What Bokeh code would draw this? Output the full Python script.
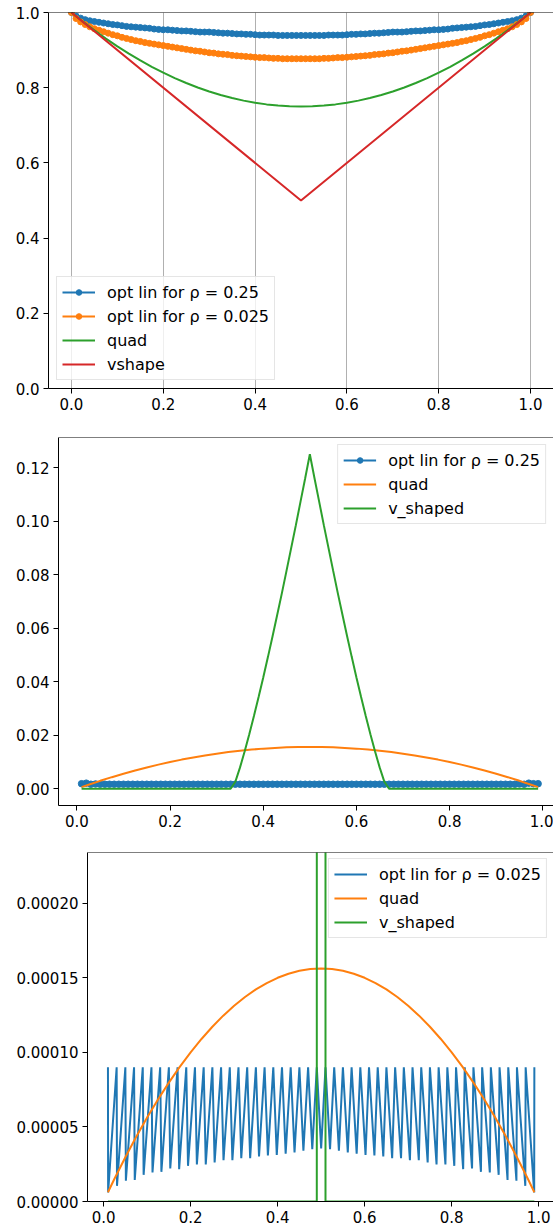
from bokeh.plotting import figure
from bokeh.layouts import column
from bokeh.models import FixedTicker, PrintfTickFormatter, Range1d, Span
from bokeh.embed import file_html
from bokeh.resources import INLINE

FONT = "DejaVu Sans"
FS = "15px"
LFS = "16px"
BLUE, ORANGE, GREEN, RED = "#1f77b4", "#ff7f0e", "#2ca02c", "#d62728"

# ---------------- data ----------------
x_ticks = [0.0, 0.2, 0.4, 0.6, 0.8, 1.0]

# sampling grid 0.00 .. 1.00 (step 0.01)
x_fine = [round(i * 0.01, 2) for i in range(101)]

# panel 1 : efficiency curves
opt_lin_rho_0_25 = [
    1.000, 0.991, 0.985, 0.981, 0.978, 0.976, 0.974, 0.972, 0.970, 0.968,
    0.967, 0.965, 0.963, 0.962, 0.961, 0.960, 0.959, 0.958, 0.956, 0.955,
    0.954, 0.954, 0.953, 0.952, 0.951, 0.951, 0.950, 0.949, 0.948, 0.948,
    0.948, 0.947, 0.946, 0.945, 0.945, 0.944, 0.943, 0.943, 0.942, 0.942,
    0.941, 0.940, 0.940, 0.940, 0.940, 0.939, 0.939, 0.939, 0.939, 0.939,
    0.939,
    0.939, 0.939, 0.939, 0.939, 0.939, 0.940, 0.940, 0.940, 0.940, 0.941,
    0.942, 0.942, 0.943, 0.943, 0.944, 0.945, 0.945, 0.946, 0.947, 0.948,
    0.948, 0.948, 0.949, 0.950, 0.951, 0.951, 0.952, 0.953, 0.954, 0.954,
    0.955, 0.956, 0.958, 0.959, 0.960, 0.961, 0.962, 0.963, 0.965, 0.967,
    0.968, 0.970, 0.972, 0.974, 0.976, 0.978, 0.981, 0.985, 0.991, 1.000,
]
opt_lin_rho_0_025 = [
    1.000, 0.984, 0.975, 0.968, 0.962, 0.957, 0.953, 0.949, 0.945, 0.941,
    0.938, 0.934, 0.931, 0.928, 0.925, 0.923, 0.920, 0.918, 0.916, 0.914,
    0.912, 0.910, 0.908, 0.906, 0.904, 0.902, 0.900, 0.898, 0.897, 0.895,
    0.893, 0.892, 0.890, 0.889, 0.888, 0.886, 0.885, 0.884, 0.883, 0.882,
    0.881, 0.880, 0.880, 0.879, 0.878, 0.878, 0.877, 0.877, 0.877, 0.877,
    0.877,
    0.877, 0.877, 0.877, 0.877, 0.878, 0.878, 0.879, 0.880, 0.880, 0.881,
    0.882, 0.883, 0.884, 0.885, 0.886, 0.888, 0.889, 0.890, 0.892, 0.893,
    0.895, 0.897, 0.898, 0.900, 0.902, 0.904, 0.906, 0.908, 0.910, 0.912,
    0.914, 0.916, 0.918, 0.920, 0.923, 0.925, 0.928, 0.931, 0.934, 0.938,
    0.941, 0.945, 0.949, 0.953, 0.957, 0.962, 0.968, 0.975, 0.984, 1.000,
]
x_quad1 = [0.0, 0.025, 0.05, 0.075, 0.1, 0.125, 0.15, 0.175, 0.2, 0.225, 0.25,
           0.275, 0.3, 0.325, 0.35, 0.375, 0.4, 0.425, 0.45, 0.475, 0.5,
           0.525, 0.55, 0.575, 0.6, 0.625, 0.65, 0.675, 0.7, 0.725, 0.75,
           0.775, 0.8, 0.825, 0.85, 0.875, 0.9, 0.925, 0.95, 0.975, 1.0]
quad1 = [1.0, 0.975625, 0.9525, 0.930625, 0.91, 0.890625, 0.8725, 0.855625,
         0.84, 0.825625, 0.8125, 0.800625, 0.79, 0.780625, 0.7725, 0.765625,
         0.76, 0.755625, 0.7525, 0.750625, 0.75,
         0.750625, 0.7525, 0.755625, 0.76, 0.765625, 0.7725, 0.780625, 0.79,
         0.800625, 0.8125, 0.825625, 0.84, 0.855625, 0.8725, 0.890625, 0.91,
         0.930625, 0.9525, 0.975625, 1.0]
x_vshape1 = [0.0, 0.5, 1.0]
vshape1 = [1.0, 0.5, 1.0]

# panel 2
x_mid = x_fine[1:100]   # 0.01 .. 0.99
opt_lin2 = [
    0.0019, 0.0021, 0.0017, 0.0018, 0.0017, 0.0017, 0.0017, 0.0017, 0.0017, 0.0017,
    0.0017, 0.0017, 0.0017, 0.0017, 0.0017, 0.0017, 0.0017, 0.0017, 0.0017, 0.0017,
    0.0017, 0.0017, 0.0017, 0.0017, 0.0017, 0.0017, 0.0017, 0.0017, 0.0017, 0.0017,
    0.0017, 0.0017, 0.0017, 0.0017, 0.0017, 0.0017, 0.0017, 0.0017, 0.0017, 0.0017,
    0.0017, 0.0017, 0.0017, 0.0017, 0.0017, 0.0017, 0.0017, 0.0017, 0.0017, 0.0017,
    0.0017, 0.0017, 0.0017, 0.0017, 0.0017, 0.0017, 0.0017, 0.0017, 0.0017, 0.0017,
    0.0017, 0.0017, 0.0017, 0.0017, 0.0017, 0.0017, 0.0017, 0.0017, 0.0017, 0.0017,
    0.0017, 0.0017, 0.0017, 0.0017, 0.0017, 0.0017, 0.0017, 0.0017, 0.0017, 0.0017,
    0.0017, 0.0017, 0.0017, 0.0017, 0.0017, 0.0017, 0.0017, 0.0017, 0.0017, 0.0017,
    0.0017, 0.0017, 0.0017, 0.0017, 0.0018, 0.0017, 0.0021, 0.0019, 0.0019,
]
x_quad = [0.01, 0.025, 0.05, 0.075, 0.1, 0.125, 0.15, 0.175, 0.2, 0.225, 0.25,
          0.275, 0.3, 0.325, 0.35, 0.375, 0.4, 0.425, 0.45, 0.475, 0.5,
          0.525, 0.55, 0.575, 0.6, 0.625, 0.65, 0.675, 0.7, 0.725, 0.75,
          0.775, 0.8, 0.825, 0.85, 0.875, 0.9, 0.925, 0.95, 0.975, 0.99]
quad2 = [0.000619, 0.001523, 0.002969, 0.004336, 0.005625, 0.006836, 0.007969,
         0.009023, 0.010000, 0.010898, 0.011719, 0.012461, 0.013125, 0.013711,
         0.014219, 0.014648, 0.015000, 0.015273, 0.015469, 0.015586, 0.015625,
         0.015586, 0.015469, 0.015273, 0.015000, 0.014648, 0.014219, 0.013711,
         0.013125, 0.012461, 0.011719, 0.010898, 0.010000, 0.009023, 0.007969,
         0.006836, 0.005625, 0.004336, 0.002969, 0.001523, 0.000619]
x_vshaped2 = [0.01, 0.33, 0.34, 0.35, 0.36, 0.37, 0.38, 0.39, 0.40, 0.41, 0.42,
              0.43, 0.44, 0.45, 0.46, 0.47, 0.48, 0.49, 0.50, 0.51, 0.52, 0.53,
              0.54, 0.55, 0.56, 0.57, 0.58, 0.59, 0.60, 0.61, 0.62, 0.63, 0.64,
              0.65, 0.66, 0.67, 0.99]
vshaped2 = [0.0, 0.0, 0.0026, 0.0079, 0.0139, 0.0204, 0.0272, 0.0343, 0.0416,
            0.0492, 0.0570, 0.0650, 0.0731, 0.0815, 0.0900, 0.0985, 0.1073,
            0.1160, 0.1250, 0.1160, 0.1073, 0.0985, 0.0900, 0.0815, 0.0731,
            0.0650, 0.0570, 0.0492, 0.0416, 0.0343, 0.0272, 0.0204, 0.0139,
            0.0079, 0.0026, 0.0, 0.0]

# panel 3
peak_x = [round(0.01 + 0.02 * k, 2) for k in range(50)]   # 0.01, 0.03, ..., 0.99
peak_value = 0.00009
trough_x = [0.0104, 0.0308, 0.0512, 0.0716, 0.0920, 0.1124, 0.1328, 0.1532,
            0.1736, 0.1940, 0.2144, 0.2348, 0.2552, 0.2756, 0.2960, 0.3164,
            0.3368, 0.3572, 0.3776, 0.3980, 0.4184, 0.4388, 0.4592, 0.4796,
            0.5000, 0.5204, 0.5408, 0.5612, 0.5816, 0.6020, 0.6224, 0.6428,
            0.6632, 0.6836, 0.7040, 0.7244, 0.7448, 0.7652, 0.7856, 0.8060,
            0.8264, 0.8468, 0.8672, 0.8876, 0.9080, 0.9284, 0.9488, 0.9692,
            0.9896]
trough_y = [6.0e-6, 10.5e-6, 13.9e-6, 14.5e-6, 17.9e-6, 19.5e-6, 19.9e-6, 22.1e-6,
            21.7e-6, 23.9e-6, 24.8e-6, 24.8e-6, 26.2e-6, 27.7e-6, 27.7e-6, 29.1e-6,
            29.1e-6, 30.2e-6, 30.8e-6, 31.2e-6, 32.0e-6, 32.9e-6, 34.0e-6, 35.1e-6,
            35.6e-6,
            35.1e-6, 34.0e-6, 32.9e-6, 32.0e-6, 31.2e-6, 30.8e-6, 30.2e-6, 29.1e-6,
            29.1e-6, 27.7e-6, 27.7e-6, 26.2e-6, 24.8e-6, 24.8e-6, 23.9e-6, 21.7e-6,
            22.1e-6, 19.9e-6, 19.5e-6, 17.9e-6, 14.5e-6, 13.9e-6, 10.5e-6, 6.0e-6]
quad3 = [0.00000619, 0.00001523, 0.00002969, 0.00004336, 0.00005625, 0.00006836,
         0.00007969, 0.00009023, 0.00010000, 0.00010898, 0.00011719, 0.00012461,
         0.00013125, 0.00013711, 0.00014219, 0.00014648, 0.00015000, 0.00015273,
         0.00015469, 0.00015586, 0.00015625,
         0.00015586, 0.00015469, 0.00015273, 0.00015000, 0.00014648, 0.00014219,
         0.00013711, 0.00013125, 0.00012461, 0.00011719, 0.00010898, 0.00010000,
         0.00009023, 0.00007969, 0.00006836, 0.00005625, 0.00004336, 0.00002969,
         0.00001523, 0.00000619]
x_vshaped3 = [0.01, 0.49, 0.50, 0.51, 0.99]
vshaped3 = [0.0, 0.0, 0.125, 0.0, 0.0]

saw_x, saw_y = [], []
for k in range(len(trough_x)):
    saw_x += [peak_x[k], trough_x[k]]
    saw_y += [peak_value, trough_y[k]]
saw_x.append(peak_x[-1])
saw_y.append(peak_value)


# ---------------- helpers ----------------
def make_fig(height, left, top, bottom, xr, yr):
    p = figure(width=553, height=height, x_range=Range1d(*xr), y_range=Range1d(*yr),
               output_backend="svg", toolbar_location=None,
               min_border_left=left, min_border_right=0,
               min_border_top=top, min_border_bottom=bottom)
    try:
        p.frame_align = False
    except Exception:
        pass
    p.background_fill_color = "white"
    p.border_fill_color = "white"
    p.outline_line_color = None
    return p


def style(p, yticks, yfmt, xgrid=False, right_spine=False):
    p.xaxis.ticker = FixedTicker(ticks=x_ticks)
    p.xaxis.formatter = PrintfTickFormatter(format="%.1f")
    p.yaxis.ticker = FixedTicker(ticks=yticks)
    p.yaxis.formatter = PrintfTickFormatter(format=yfmt)
    for ax in list(p.xaxis) + list(p.yaxis):
        ax.major_label_text_font = FONT
        ax.major_label_text_font_size = FS
        ax.major_label_text_color = "black"
        ax.major_tick_in = 0
        ax.major_tick_out = 5
        ax.major_tick_line_color = "black"
        ax.minor_tick_line_color = None
        ax.axis_line_color = "black"
        ax.axis_line_width = 1
        ax.major_label_standoff = 4
    p.add_layout(Span(location=p.y_range.end, dimension="width",
                      line_color="black", line_width=1))
    if right_spine:
        p.add_layout(Span(location=p.x_range.end, dimension="height",
                          line_color="black", line_width=1))
    p.xgrid.grid_line_color = "#b0b0b0" if xgrid else None
    p.xgrid.grid_line_width = 1
    p.ygrid.grid_line_color = None


def style_legend(p, loc, margin):
    lg = p.legend[0]
    lg.location = loc
    lg.margin = margin
    lg.padding = 5
    lg.spacing = 4
    lg.glyph_width = 33
    lg.glyph_height = 14
    lg.label_height = 20
    lg.label_standoff = 12
    lg.label_text_font = FONT
    lg.label_text_font_size = LFS
    lg.label_text_color = "black"
    lg.border_line_color = "#cccccc"
    lg.border_line_width = 1
    lg.background_fill_alpha = 0.8


# ---------------- panel 1 ----------------
p1 = make_fig(423, 48, 12, 35, (-0.05, 1.05), (0.0, 1.0))
style(p1, [0.0, 0.2, 0.4, 0.6, 0.8, 1.0], "%.1f", xgrid=True, right_spine=True)
l1 = "opt lin for ρ = 0.25"
l2 = "opt lin for ρ = 0.025"
p1.line(x_fine, opt_lin_rho_0_25, color=BLUE, line_width=2, legend_label=l1)
p1.scatter(x_fine, opt_lin_rho_0_25, color=BLUE, size=6, legend_label=l1)
p1.line(x_fine, opt_lin_rho_0_025, color=ORANGE, line_width=2, legend_label=l2)
p1.scatter(x_fine, opt_lin_rho_0_025, color=ORANGE, size=6, legend_label=l2)
p1.line(x_quad1, quad1, color=GREEN, line_width=2, legend_label="quad")
p1.line(x_vshape1, vshape1, color=RED, line_width=2, legend_label="vshape")
style_legend(p1, "bottom_left", 8)

# ---------------- panel 2 ----------------
p2 = make_fig(415, 58, 14, 33, (-0.0395, 1.023), (-0.00625, 0.13125))
style(p2, [0.0, 0.02, 0.04, 0.06, 0.08, 0.10, 0.12], "%.2f")
p2.line(x_mid, opt_lin2, color=BLUE, line_width=2, legend_label=l1)
p2.scatter(x_mid, opt_lin2, color=BLUE, size=6.5, legend_label=l1)
p2.line(x_quad, quad2, color=ORANGE, line_width=2, legend_label="quad")
p2.line(x_vshaped2, vshaped2, color=GREEN, line_width=2, legend_label="v_shaped")
style_legend(p2, "top_right", 7)

# ---------------- panel 3 ----------------
p3 = make_fig(388, 87, 14, 25, (-0.037, 1.034), (0.0, 0.000234))
style(p3, [0.0, 0.00005, 0.0001, 0.00015, 0.0002], "%.5f")
p3.line(saw_x, saw_y, color=BLUE, line_width=2, legend_label=l2)
p3.line(x_quad, quad3, color=ORANGE, line_width=2, legend_label="quad")
p3.line(x_vshaped3, vshaped3, color=GREEN, line_width=2, legend_label="v_shaped")
style_legend(p3, "top_right", 6)

layout = column(p1, p2, p3)
open("out.html", "w").write(file_html(layout, INLINE))
